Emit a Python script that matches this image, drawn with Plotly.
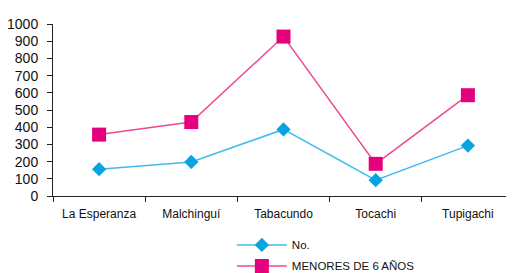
import plotly.graph_objects as go

categories = ["La Esperanza", "Malchinguí", "Tabacundo", "Tocachi", "Tupigachi"]
no_values = [156, 198, 387, 92, 293]
menores_values = [357, 430, 927, 187, 586]
y_ticks = [0, 100, 200, 300, 400, 500, 600, 700, 800, 900, 1000]

FONT = "Liberation Sans, Arial, sans-serif"

fig = go.Figure()
fig.add_trace(go.Scatter(
    x=categories, y=no_values, name="No.", mode="lines+markers",
    legendgroup="a",
    line=dict(color="#3FBCEB", width=1.5),
    marker=dict(symbol="diamond", size=11, color="#0AA3E2"),
))
fig.add_trace(go.Scatter(
    x=categories, y=menores_values, name="MENORES DE 6 AÑOS", mode="lines+markers",
    legendgroup="b",
    line=dict(color="#EC4A94", width=1.5),
    marker=dict(symbol="square", size=14, color="#E5007E"),
))

# page body has an 8px default margin, so the figure is sized/offset for it
fig.update_layout(
    width=506, height=265,
    margin=dict(l=45, r=0, t=16, b=77, autoexpand=False),
    paper_bgcolor="white", plot_bgcolor="white",
    font=dict(family=FONT, size=12, color="#111111"),
    showlegend=True,
    legend=dict(x=0.388, y=-0.2, xanchor="left", yanchor="top",
                orientation="v", font=dict(size=11.5, family=FONT),
                itemwidth=50, tracegroupgap=2, bgcolor="rgba(0,0,0,0)"),
)
fig.update_xaxes(
    type="category", range=[-0.5, 4.5], showline=True, linecolor="#222222", linewidth=1,
    ticks="outside", tickson="boundaries", ticklen=5, tickcolor="#222222",
    ticklabelstandoff=7,
    showgrid=False, zeroline=False, tickfont=dict(size=12, family=FONT),
)
fig.update_yaxes(
    range=[0, 1000], tickvals=y_ticks, showline=True, linecolor="#222222",
    linewidth=1, ticks="outside", ticklen=5, tickcolor="#222222",
    ticklabelstandoff=6,
    showgrid=False, zeroline=False, tickfont=dict(size=14, family=FONT),
)

fig.write_html("out.html")
